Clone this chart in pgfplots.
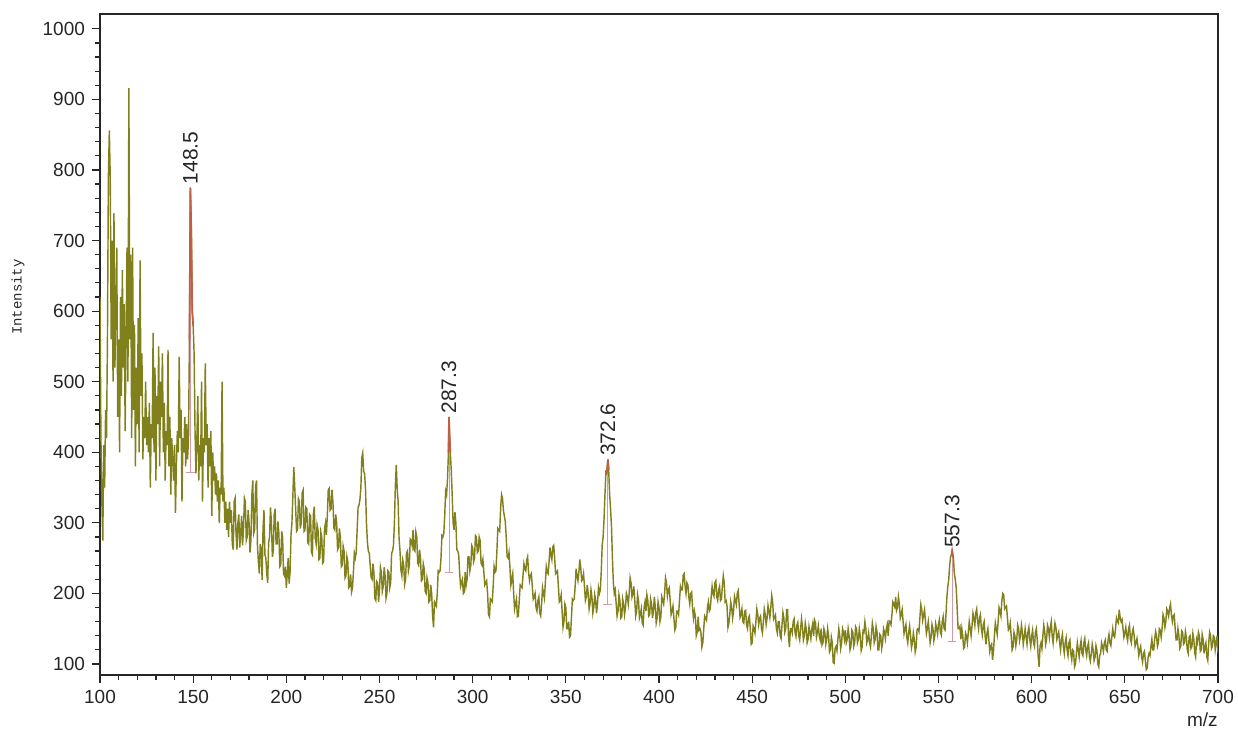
\documentclass[border=0pt]{standalone}
\usepackage{fontspec}
\setmainfont{Liberation Sans}
\newfontfamily\monofont{Liberation Mono}
\usepackage{pgfplots}
\pgfplotsset{compat=1.18}
\definecolor{spec}{RGB}{128,128,28}
\definecolor{peakred}{RGB}{190,95,65}
\definecolor{peakpink}{RGB}{215,150,170}
\begin{document}
\begin{tikzpicture}
\begin{axis}[
  name=ax,
  scale only axis,
  width=559pt, height=330.5pt,
  xmin=100, xmax=700, ymin=84.4, ymax=1021,
  xtick={100,150,...,700},
  ytick={100,200,...,1000},
  minor x tick num=4, minor y tick num=4,
  tick align=outside,
  xtick pos=bottom, ytick pos=left,
  major tick length=4pt, minor tick length=2.5pt,
  axis line style={line width=0.7pt, black!85},
  every tick/.style={black!85, line width=0.6pt},
  tick label style={font=\fontsize{9.5}{11}\selectfont, text=black!85},
  /pgf/number format/assume math mode=true,
  /pgf/number format/set thousands separator={},
  xlabel={m/z},
  xlabel style={at={(rel axis cs:1,0)}, anchor=north east, inner sep=0pt, yshift=-18.5pt, font=\fontsize{9.5}{11}\selectfont, text=black!85},
  clip=true,
]
\addplot[spec, line width=0.72pt] coordinates {
(100,620)(100.5,420)(101,330)(101.5,275)(102,410)(102.5,350)(103,460)(103.5,420)(104,560)(104.5,790)
(105,856)(105.5,790)(106,560)(106.5,700)(107,500)(107.5,739)(108,520)(108.5,600)(109,690)(109.5,450)
(110,560)(110.5,400)(111,620)(111.5,480)(112,658)(112.5,520)(113,610)(113.5,430)(114,560)(114.5,690)
(115,500)(115.5,916)(116,560)(116.5,680)(117,420)(117.5,690)(118,460)(118.5,580)(119,380)(119.5,520)
(120,440)(120.5,590)(121,400)(121.5,672)(122,480)(122.5,540)(123,390)(123.5,450)(124,420)(124.5,500)
(125,410)(125.5,450)(126,400)(126.5,470)(127,350)(127.5,440)(128,420)(128.5,569)(129,400)(129.5,520)
(130,360)(130.5,480)(131,440)(131.5,550)(132,380)(132.5,500)(133,450)(133.5,540)(134,400)(134.5,470)
(135,360)(135.5,430)(136,410)(136.5,545)(137,380)(137.5,450)(138,340)(138.5,420)(139,390)(139.5,360)
(140,410)(140.5,314)(141,380)(141.5,430)(142,400)(142.5,535)(143,420)(143.5,460)(144,330)(144.5,420)
(145,400)(145.5,450)(146,380)(146.5,440)(147,390)(147.5,420)(148,560)(148.5,775)(149,715)(149.5,600)
(150,580)(150.5,540)(151,430)(151.5,370)(152,420)(152.5,480)(153,360)(153.5,410)(154,380)(154.5,500)
(155,330)(155.5,420)(156,400)(156.5,526)(157,410)(157.5,440)(158,350)(158.5,420)(159,380)(159.5,430)
(160,310)(160.5,400)(161,360)(161.5,380)(162,340)(162.5,370)(163,330)(163.5,360)(164,300)(164.5,350)
(165,340)(165.5,500)(166,330)(166.5,350)(167,300)(167.5,330)(168,290)(168.5,320)(169,280)(169.5,330)
(170,300)(170.5,318)(171,270)(171.5,262)(172,330)(172.5,335)(173,285)(173.5,262)(174,300)(174.5,312)
(175,265)(175.5,285)(176,310)(176.5,268)(177,290)(177.5,335)(178,330)(178.5,275)(179,280)(179.5,318)
(180,300)(180.5,258)(181,275)(181.5,340)(182,360)(182.5,285)(183,290)(183.5,352)(184,360)(184.5,268)
(185,245)(185.5,228)(186,270)(186.5,262)(187,219)(187.5,292)(188,318)(188.5,255)(189,250)(189.5,228)
(190,215)(190.5,272)(191,280)(191.5,322)(192,300)(192.5,252)(193,260)(193.5,312)(194,320)(194.5,270)
(195,270)(195.5,302)(196,285)(196.5,238)(197,240)(197.5,288)(198,280)(198.5,228)(199,225)(199.5,238)
(200,208)(200.5,228)(201,250)(201.5,214)(202,230)(202.5,282)(203,300)(203.5,338)(204,379)(204.5,352)
(205,320)(205.5,288)(206,290)(206.5,334)(207,330)(207.5,292)(208,300)(208.5,342)(209,346)(209.5,288)
(210,290)(210.5,322)(211,320)(211.5,272)(212,270)(212.5,312)(213,310)(213.5,258)(214,255)(214.5,312)
(215,323)(215.5,278)(216,270)(216.5,297)(217,290)(217.5,248)(218,250)(218.5,287)(219,280)(219.5,243)
(220,245)(220.5,292)(221,300)(221.5,283)(222,310)(222.5,347)(223,349)(223.5,318)(224,320)(224.5,347)
(225,330)(225.5,293)(226,290)(226.5,312)(227,300)(227.5,262)(228,265)(228.5,292)(229,280)(229.5,238)
(230,240)(230.5,267)(231,260)(231.5,222)(232,225)(232.5,252)(233,245)(233.5,208)(234,210)(234.5,227)
(235,202)(235.5,208)(236,230)(236.5,257)(237,250)(237.5,258)(238,290)(238.5,322)(239,325)(239.5,333)
(240,350)(240.5,392)(241,399)(241.5,373)(242,370)(242.5,347)(243,300)(243.5,273)(244,260)(244.5,257)
(245,240)(245.5,223)(246,220)(246.5,242)(247,230)(247.5,193)(248,190)(248.5,217)(249,215)(249.5,188)
(250,205)(250.5,237)(251,230)(251.5,203)(252,210)(252.5,237)(253,225)(253.5,193)(254,200)(254.5,232)
(255,230)(255.5,208)(256,215)(256.5,257)(257,260)(257.5,268)(258,300)(258.5,352)(259,382)(259.5,348)
(260,330)(260.5,278)(261,260)(261.5,233)(262,225)(262.5,247)(263,240)(263.5,213)(264,220)(264.5,257)
(265,260)(265.5,232)(266,240)(266.5,277)(267,275)(267.5,268)(268,290)(268.5,262)(269,260)(269.5,287)
(270,280)(270.5,243)(271,240)(271.5,262)(272,250)(272.5,218)(273,220)(273.5,242)(274,235)(274.5,203)
(275,200)(275.5,222)(276,215)(276.5,188)(277,190)(277.5,212)(278,200)(278.5,168)(279,152)(279.5,188)
(280,185)(280.5,182)(281,200)(281.5,232)(282,230)(282.5,232)(283,250)(283.5,282)(284,280)(284.5,285)
(285,310)(285.5,345)(286,340)(286.5,362)(287,400)(287.3,450)(287.6,425)(288,400)(288.5,375)(289,340)
(289.5,300)(290,290)(290.5,315)(291,300)(291.5,262)(292,260)(292.5,255)(293,230)(293.5,210)(294,215)
(294.5,220)(295,200)(295.5,202)(296,230)(296.5,212)(297,220)(297.5,252)(298,252)(298.5,232)(299,240)
(299.5,268)(300,265)(300.5,245)(301,250)(301.5,282)(302,280)(302.5,258)(303,260)(303.5,280)(304,275)
(304.5,243)(305,240)(305.5,248)(306,230)(306.5,212)(307,215)(307.5,218)(308,200)(308.5,170)(309,167)
(309.5,192)(310,190)(310.5,188)(311,210)(311.5,238)(312,230)(312.5,232)(313,260)(313.5,292)(314,290)
(314.5,288)(315,320)(315.5,340)(316,335)(316.5,318)(317,310)(317.5,302)(318,280)(318.5,252)(319,250)
(319.5,258)(320,237)(320.5,212)(321,220)(321.5,228)(322,200)(322.5,178)(323,185)(323.5,192)(324,167)
(324.5,168)(325,190)(325.5,212)(326,210)(326.5,208)(327,225)(327.5,242)(328,235)(328.5,232)(329,247)
(329.5,252)(330,230)(330.5,218)(331,225)(331.5,228)(332,210)(332.5,192)(333,195)(333.5,200)(334,180)
(334.5,175)(335,190)(335.5,195)(336,172)(336.5,168)(337,185)(337.5,208)(338,200)(338.5,193)(339,215)
(339.5,238)(340,230)(340.5,228)(341,245)(341.5,265)(342,255)(342.5,248)(343,266)(343.5,268)(344,250)
(344.5,228)(345,230)(345.5,232)(346,210)(346.5,188)(347,190)(347.5,198)(348,175)(348.5,152)(349,160)
(349.5,185)(350,180)(350.5,150)(351,150)(351.5,160)(352,138)(352.5,140)(353,165)(353.5,192)(354,190)
(354.5,192)(355,210)(355.5,235)(356,225)(356.5,218)(357,230)(357.5,248)(358,237)(358.5,218)(359,220)
(359.5,228)(360,210)(360.5,190)(361,195)(361.5,212)(362,200)(362.5,178)(363,186)(363.5,205)(364,195)
(364.5,172)(365,180)(365.5,198)(366,190)(366.5,172)(367,186)(367.5,208)(368,200)(368.5,205)(369,230)
(369.5,268)(370,280)(370.5,305)(371,340)(371.5,372)(372,370)(372.6,390)(373,375)(373.5,340)(374,320)
(374.5,295)(375,250)(375.5,215)(376,200)(376.5,205)(377,186)(377.5,168)(378,175)(378.5,198)(379,190)
(379.5,165)(380,167)(380.5,192)(381,185)(381.5,170)(382,180)(382.5,200)(383,195)(383.5,185)(384,200)
(384.5,222)(385,215)(385.5,195)(386,200)(386.5,210)(387,190)(387.5,168)(388,175)(388.5,198)(389,190)
(389.5,165)(390,170)(390.5,178)(391,158)(391.5,155)(392,180)(392.5,188)(393,175)(393.5,198)(394,190)
(394.5,168)(395,170)(395.5,192)(396,185)(396.5,165)(397,175)(397.5,195)(398,181)(398.5,158)(399,165)
(399.5,188)(400,180)(400.5,160)(401,167)(401.5,195)(402,190)(402.5,185)(403,200)(403.5,222)(404,215)
(404.5,196)(405,205)(405.5,208)(406,190)(406.5,170)(407,175)(407.5,182)(408,165)(408.5,148)(409,152)
(409.5,175)(410,175)(410.5,170)(411,190)(411.5,210)(412,205)(412.5,205)(413,226)(413.5,228)(414,210)
(414.5,200)(415,215)(415.5,212)(416,195)(416.5,185)(417,200)(417.5,202)(418,180)(418.5,165)(419,175)
(419.5,168)(420,140)(420.5,145)(421,167)(421.5,148)(422,150)(422.5,145)(423,124)(423.5,130)(424,150)
(424.5,168)(425,165)(425.5,162)(426,180)(426.5,188)(427,175)(427.5,178)(428,195)(428.5,210)(429,200)
(429.5,196)(430,215)(430.5,218)(431,195)(431.5,190)(432,205)(432.5,210)(433,190)(433.5,192)(434,210)
(434.5,225)(435,215)(435.5,188)(436,190)(436.5,182)(437,152)(437.5,158)(438,170)(438.5,188)(439,180)
(439.5,165)(440,175)(440.5,196)(441,190)(441.5,184)(442,200)(442.5,204)(443,185)(443.5,166)(444,170)
(444.5,178)(445,160)(445.5,158)(446,175)(446.5,176)(447,155)(447.5,150)(448,165)(448.5,168)(449,150)
(449.5,128)(450,130)(450.5,154)(451,150)(451.5,144)(452,160)(452.5,178)(453,170)(453.5,156)(454,165)
(454.5,168)(455,150)(455.5,144)(456,160)(456.5,178)(457,170)(457.5,156)(458,165)(458.5,183)(459,175)
(459.5,166)(460,180)(460.5,197)(461,188)(461.5,163)(462,165)(462.5,169)(463,150)(463.5,144)(464,160)
(464.5,160)(465,140)(465.5,136)(466,155)(466.5,173)(467,165)(467.5,145)(468,150)(468.5,177)(469,177)
(469.5,138)(470,124)(470.5,150)(471,150)(471.5,144)(472,160)(472.5,164)(473,145)(473.5,139)(474,155)
(474.5,159)(475,140)(475.5,134)(476,150)(476.5,164)(477,152)(477.5,134)(478,140)(478.5,158)(479,150)
(479.5,130)(480,135)(480.5,153)(481,145)(481.5,136)(482,150)(482.5,157)(483,140)(483.5,162)(484,158)
(484.5,138)(485,145)(485.5,154)(486,140)(486.5,134)(487,150)(487.5,127)(488,130)(488.5,150)(489,145)
(489.5,128)(490,135)(490.5,150)(491,140)(491.5,117)(492,120)(492.5,138)(493,130)(493.5,102)(494,101)
(494.5,122)(495,125)(495.5,119)(496,135)(496.5,150)(497,140)(497.5,122)(498,130)(498.5,150)(499,145)
(499.5,135)(500,148)(500.5,130)(501,135)(501.5,150)(502,140)(502.5,120)(503,125)(503.5,148)(504,145)
(504.5,125)(505,130)(505.5,153)(506,150)(506.5,130)(507,135)(507.5,150)(508,140)(508.5,119)(509,124)
(509.5,147)(510,145)(510.5,160)(511,150)(511.5,130)(512,135)(512.5,144)(513,130)(513.5,124)(514,140)
(514.5,158)(515,150)(515.5,130)(516,135)(516.5,153)(517,145)(517.5,120)(518,120)(518.5,142)(519,140)
(519.5,122)(520,130)(520.5,150)(521,145)(521.5,136)(522,150)(522.5,156)(523,140)(523.5,161)(524,160)
(524.5,156)(525,170)(525.5,188)(526,185)(526.5,181)(527,195)(527.5,176)(528,180)(528.5,195)(529,185)
(529.5,165)(530,170)(530.5,177)(531,160)(531.5,143)(532,150)(532.5,156)(533,138)(533.5,130)(534,145)
(534.5,154)(535,140)(535.5,123)(536,130)(536.5,144)(537,135)(537.5,117)(538,124)(538.5,149)(539,150)
(539.5,146)(540,165)(540.5,184)(541,177)(541.5,162)(542,170)(542.5,177)(543,160)(543.5,143)(544,150)
(544.5,160)(545,145)(545.5,130)(546,138)(546.5,156)(547,150)(547.5,133)(548,140)(548.5,157)(549,150)
(549.5,142)(550,157)(550.5,163)(551,145)(551.5,141)(552,160)(552.5,167)(553,150)(553.5,148)(554,170)
(554.5,195)(555,210)(555.5,220)(556,240)(556.5,252)(557,255)(557.3,260)(558,250)(558.5,228)(559,220)
(559.5,208)(560,180)(560.5,150)(561,150)(561.5,153)(562,135)(562.5,150)(563,140)(563.5,122)(564,124)
(564.5,144)(565,140)(565.5,130)(566,145)(566.5,160)(567,150)(567.5,140)(568,155)(568.5,172)(569,165)
(569.5,155)(570,172)(570.5,178)(571,160)(571.5,150)(572,165)(572.5,170)(573,150)(573.5,141)(574,155)
(574.5,160)(575,140)(575.5,128)(576,143)(576.5,150)(577,135)(577.5,118)(578,125)(578.5,128)(579,106)
(579.5,118)(580,140)(580.5,158)(581,150)(581.5,142)(582,160)(582.5,180)(583,175)(583.5,168)(584,190)
(584.5,200)(585,198)(585.5,178)(586,180)(586.5,182)(587,165)(587.5,148)(588,150)(588.5,158)(589,140)
(589.5,120)(590,124)(590.5,145)(591,140)(591.5,126)(592,135)(592.5,155)(593,150)(593.5,133)(594,140)
(594.5,155)(595,145)(595.5,128)(596,138)(596.5,150)(597,138)(597.5,128)(598,145)(598.5,152)(599,135)
(599.5,125)(600,140)(600.5,148)(601,130)(601.5,125)(602,145)(602.5,150)(603,134)(603.5,110)(604,96)
(604.5,125)(605,130)(605.5,122)(606,140)(606.5,155)(607,145)(607.5,128)(608,135)(608.5,155)(609,150)
(609.5,138)(610,152)(610.5,160)(611,140)(611.5,130)(612,145)(612.5,158)(613,152)(613.5,135)(614,140)
(614.5,145)(615,130)(615.5,120)(616,135)(616.5,142)(617,125)(617.5,115)(618,130)(618.5,137)(619,120)
(619.5,112)(620,130)(620.5,134)(621,115)(621.5,106)(622,120)(622.5,118)(623,96)(623.5,100)(624,115)
(624.5,130)(625,120)(625.5,110)(626,125)(626.5,133)(627,115)(627.5,112)(628,130)(628.5,136)(629,120)
(629.5,112)(630,125)(630.5,130)(631,110)(631.5,104)(632,115)(632.5,128)(633,120)(633.5,105)(634,110)
(634.5,126)(635,120)(635.5,100)(636,96)(636.5,112)(637,115)(637.5,130)(638,125)(638.5,118)(639,130)
(639.5,134)(640,120)(640.5,118)(641,134)(641.5,142)(642,130)(642.5,126)(643,138)(643.5,150)(644,140)
(644.5,138)(645,150)(645.5,165)(646,160)(646.5,158)(647,177)(647.5,165)(648,160)(648.5,163)(649,150)
(649.5,138)(650,144)(650.5,152)(651,140)(651.5,133)(652,150)(652.5,155)(653,135)(653.5,130)(654,145)
(654.5,150)(655,140)(655.5,125)(656,130)(656.5,136)(657,125)(657.5,112)(658,120)(658.5,125)(659,110)
(659.5,103)(660,115)(660.5,118)(661,105)(661.5,92)(662,94)(662.5,110)(663,115)(663.5,112)(664,125)
(664.5,135)(665,120)(665.5,120)(666,135)(666.5,146)(667,140)(667.5,125)(668,130)(668.5,150)(669,148)
(669.5,138)(670,150)(670.5,170)(671,165)(671.5,152)(672,160)(672.5,178)(673,175)(673.5,168)(674,179)
(674.5,185)(675,170)(675.5,160)(676,168)(676.5,170)(677,150)(677.5,134)(678,134)(678.5,150)(679,140)
(679.5,122)(680,125)(680.5,147)(681,145)(681.5,128)(682,130)(682.5,146)(683,138)(683.5,120)(684,115)
(684.5,138)(685,140)(685.5,122)(686,125)(686.5,143)(687,135)(687.5,116)(688,110)(688.5,135)(689,130)
(689.5,145)(690,140)(690.5,118)(691,120)(691.5,142)(692,135)(692.5,115)(693,125)(693.5,130)(694,110)
(694.5,105)(695,130)(695.5,145)(696,140)(696.5,122)(697,125)(697.5,140)(698,138)(698.5,120)(699,130)
(699.5,140)(700,116)
};
% peak markers: baseline bar and centre line
\addplot[peakpink, line width=0.5pt] coordinates {(146,372)(151,372)};
\addplot[peakpink, line width=0.5pt] coordinates {(148.5,372)(148.5,775)};
\addplot[peakpink, line width=0.5pt] coordinates {(285,230)(289.5,230)};
\addplot[peakpink, line width=0.5pt] coordinates {(287.3,230)(287.3,450)};
\addplot[peakpink, line width=0.5pt] coordinates {(370.2,185)(375,185)};
\addplot[peakpink, line width=0.5pt] coordinates {(372.6,185)(372.6,390)};
\addplot[peakpink, line width=0.5pt] coordinates {(555,132)(559.6,132)};
\addplot[peakpink, line width=0.5pt] coordinates {(557.3,132)(557.3,260)};
% peak tops in red
\addplot[peakred, line width=0.85pt] coordinates {(148,560)(148.5,775)(149,715)(149.5,600)(150,580)};
\addplot[peakred, line width=0.85pt] coordinates {(287,400)(287.3,450)(287.6,425)(288,400)};
\addplot[peakred, line width=0.85pt] coordinates {(372,370)(372.6,390)(373,375)};
\addplot[peakred, line width=0.85pt] coordinates {(557,255)(557.3,260)(558,250)};
\node[rotate=90, anchor=west, inner sep=1.5pt, font=\fontsize{10.5}{12}\selectfont, text=black!85] at (axis cs:148.5,775) {148.5};
\node[rotate=90, anchor=west, inner sep=1.5pt, font=\fontsize{10.5}{12}\selectfont, text=black!85] at (axis cs:287.3,450) {287.3};
\node[rotate=90, anchor=west, inner sep=1.5pt, font=\fontsize{10.5}{12}\selectfont, text=black!85] at (axis cs:372.6,390) {372.6};
\node[rotate=90, anchor=west, inner sep=1.5pt, font=\fontsize{10.5}{12}\selectfont, text=black!85] at (axis cs:557.3,260) {557.3};
\end{axis}
\node[xshift=-41pt, rotate=90, anchor=center, inner sep=0pt, font=\monofont\fontsize{7}{8}\selectfont, text=black!85] at ([yshift=189pt]ax.south west) {Intensity};
\pgfresetboundingbox
\path[use as bounding box] ([shift={(-50pt,-30pt)}]ax.south west) rectangle ([shift={(10pt,7pt)}]ax.north east);
\end{tikzpicture}
\end{document}
